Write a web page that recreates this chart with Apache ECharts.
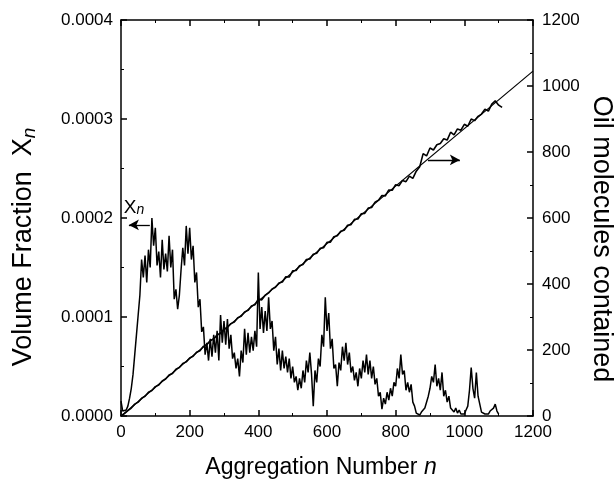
<!DOCTYPE html>
<html><head><meta charset="utf-8">
<script src="https://cdn.jsdelivr.net/npm/echarts@6/dist/echarts.min.js"></script>
<style>html,body{margin:0;padding:0;background:#fff}#c{width:616px;height:480px}</style>
</head><body><div id="c"></div>
<script>
// Axis ticks
const xTicks = [0, 200, 400, 600, 800, 1000, 1200];
const leftTickLabels = ['0.0000', '0.0001', '0.0002', '0.0003', '0.0004'];
const rightTicks = [0, 200, 400, 600, 800, 1000, 1200];
const rightTitle = 'Oil molecules contained';

// Volume fraction X_n (units of 1e-5), sampled every 5 in n
const nX = [0,5,10,15,20,25,30,35,40,45,50,55,60,65,70,75,80,85,90,95,
100,105,110,115,120,125,130,135,140,145,150,155,160,165,170,175,180,185,190,195,
200,205,210,215,220,225,230,235,240,245,250,255,260,265,270,275,280,285,290,295,
300,305,310,315,320,325,330,335,340,345,350,355,360,365,370,375,380,385,390,395,
400,405,410,415,420,425,430,435,440,445,450,455,460,465,470,475,480,485,490,495,
500,505,510,515,520,525,530,535,540,545,550,555,560,565,570,575,580,585,590,595,
600,605,610,615,620,625,630,635,640,645,650,655,660,665,670,675,680,685,690,695,
700,705,710,715,720,725,730,735,740,745,750,755,760,765,770,775,780,785,790,795,
800,805,810,815,820,825,830,835,840,845,850,855,860,865,870,875,880,885,890,895,
900,905,910,915,920,925,930,935,940,945,950,955,960,965,970,975,980,985,990,995,
1000,1005,1010,1015,1020,1025,1030,1035,1040,1045,1050,1055,1060,1065,1070,1075,1080,1085,1090,1095,1100];
const xnVals = [1.5,0.5,0.3,0.6,1.0,1.8,2.8,4.2,6.2,8.2,10.2,12.2,15.8,14.0,16.2,13.5,16.8,15.0,20.0,17.2,
19.0,15.2,16.6,14.0,17.8,14.8,16.4,14.6,18.2,15.0,16.8,11.8,12.8,10.8,12.2,14.8,17.0,15.2,19.2,16.4,
19.0,15.8,17.2,13.5,14.5,11.0,11.8,8.5,9.0,6.2,7.4,5.6,7.8,6.0,8.2,6.4,8.6,5.6,10.2,7.4,
9.6,7.2,9.8,6.8,8.2,5.8,6.4,4.8,5.8,4.0,6.6,5.4,8.8,6.2,8.4,6.4,8.0,6.6,8.6,7.0,
14.5,8.8,11.0,8.4,10.6,8.6,12.0,8.8,9.6,6.6,8.0,5.2,6.8,4.6,6.6,4.8,6.0,4.4,5.8,3.8,
5.0,3.4,4.0,2.6,3.8,2.8,4.6,3.4,5.6,4.4,6.4,4.2,1.0,4.6,3.4,5.8,5.0,8.2,7.0,12.0,
8.6,10.4,6.8,7.8,4.8,5.2,3.0,5.4,4.6,7.0,5.6,7.4,5.2,6.4,4.4,5.0,3.6,4.4,3.0,4.8,
3.8,5.6,4.4,6.2,4.2,5.6,3.8,5.0,3.2,3.8,2.0,2.4,0.7,1.8,1.2,2.4,1.6,2.8,2.0,3.4,
3.0,4.8,3.8,6.2,4.2,4.6,2.6,3.4,2.4,3.2,1.4,1.0,0.3,0.5,0.1,0.4,0.2,0.8,0.6,2.0,
2.8,4.0,3.4,5.2,3.0,3.8,2.6,4.4,2.0,2.6,1.4,2.0,0.8,1.0,0.4,0.8,0.3,0.6,0.2,0.4,
0.2,0.6,1.0,2.6,4.9,2.8,1.8,4.4,2.0,1.2,0.4,0.6,0.2,0.4,0.2,0.5,0.3,0.8,1.2,0.5,0.2];

// Oil molecules contained, sampled every 10 in n
const nOil = [0,10,20,30,40,50,60,70,80,90,100,110,120,130,140,150,160,170,180,190,
200,210,220,230,240,250,260,270,280,290,300,310,320,330,340,350,360,370,380,390,
400,410,420,430,440,450,460,470,480,490,500,510,520,530,540,550,560,570,580,590,
600,610,620,630,640,650,660,670,680,690,700,710,720,730,740,750,760,770,780,790,
800,810,820,830,840,850,860,870,880,890,900,910,920,930,940,950,960,970,980,990,
1000,1010,1020,1030,1040,1050,1060,1070,1080,1090,1100,1110];
const oilVals = [0,7,16,24,36,42,54,60,72,77,89,94,106,112,124,129,142,147,159,164,
176,181,193,198,211,216,229,233,246,250,263,268,280,285,298,302,315,320,333,337,
354,352,366,373,385,390,403,406,422,421,440,441,455,459,474,476,490,493,508,510,
526,527,543,546,560,563,578,580,596,597,613,614,630,632,648,654,668,667,685,684,
701,698,714,710,727,720,742,755,795,788,812,806,822,826,840,836,860,852,870,866,
884,878,900,895,908,915,930,924,945,955,942,935];

// Fitted straight line
const fitN = [0, 1200];
const fitVals = [0, 1045];

const F = 'Liberation Sans, Arial, sans-serif';
const chart = echarts.init(document.getElementById('c'), null, {renderer: 'canvas'});
const zip = (a, b) => a.map((v, i) => [v, b[i]]);
const axisLineStyle = {color: '#000', width: 1.5};
const tickStyle = {show: true, inside: true, length: 6, lineStyle: {color: '#000', width: 1.5}};
const minorStyle = {show: true, splitNumber: 2, length: 3, lineStyle: {color: '#000', width: 1}};

chart.setOption({
  animation: false,
  backgroundColor: '#fff',
  grid: {left: 121, right: 83, top: 20, bottom: 64, show: false, containLabel: false, outerBoundsMode: 'none'},
  graphic: [{
    type: 'text', x: 601, y: 239, rotation: -Math.PI / 2, silent: true,
    style: {text: rightTitle, fill: '#000', font: '27px ' + F, align: 'center', verticalAlign: 'middle'}
  }],
  xAxis: [{
    type: 'value', min: 0, max: 1200, interval: 200, position: 'bottom',
    axisLine: {show: true, onZero: false, lineStyle: axisLineStyle},
    axisTick: tickStyle, minorTick: minorStyle, splitLine: {show: false},
    axisLabel: {color: '#000', fontFamily: F, fontSize: 17, margin: 8, formatter: (v) => String(v)},
    name: 'Aggregation Number {i|n}', nameLocation: 'middle', nameGap: 40, nameMoveOverlap: false,
    nameTextStyle: {color: '#000', fontFamily: F, fontSize: 23, padding: [0, 12, 0, 0],
      rich: {i: {fontStyle: 'italic', fontFamily: F, fontSize: 23, color: '#000'}}}
  }, {
    type: 'value', min: 0, max: 1200, interval: 200, position: 'top',
    axisLine: {show: true, onZero: false, lineStyle: axisLineStyle},
    axisTick: tickStyle, minorTick: minorStyle, splitLine: {show: false},
    axisLabel: {show: false}
  }],
  yAxis: [{
    type: 'value', min: 0, max: 40, interval: 10, position: 'left',
    axisLine: {show: true, onZero: false, lineStyle: axisLineStyle},
    axisTick: tickStyle, minorTick: minorStyle, splitLine: {show: false},
    axisLabel: {color: '#000', fontFamily: F, fontSize: 17, margin: 8,
      formatter: (v) => leftTickLabels[Math.round(v / 10)]},
    name: 'Volume Fraction  X{s|n}', nameLocation: 'middle', nameGap: 82, nameRotate: 90, nameMoveOverlap: false,
    nameTextStyle: {color: '#000', fontFamily: F, fontSize: 27, lineHeight: 30, padding: [0, 58, 0, 0],
      rich: {s: {fontStyle: 'italic', fontFamily: F, fontSize: 19, color: '#000', verticalAlign: 'bottom', lineHeight: 20}}}
  }, {
    type: 'value', min: 0, max: 1200, interval: 200, position: 'right',
    axisLine: {show: true, onZero: false, lineStyle: axisLineStyle},
    axisTick: tickStyle, minorTick: minorStyle, splitLine: {show: false},
    axisLabel: {color: '#000', fontFamily: F, fontSize: 17, margin: 9, formatter: (v) => String(v)}
  }],
  series: [{
    name: 'Xn', type: 'line', xAxisIndex: 0, yAxisIndex: 0, data: zip(nX, xnVals),
    symbol: 'none', lineStyle: {color: '#000', width: 1.5},
    markLine: {
      silent: true, symbol: ['arrow', 'none'], symbolSize: [8, 10],
      lineStyle: {color: '#000', width: 1.3, type: 'solid'}, label: {show: false},
      data: [[{coord: [23, 19.3]}, {coord: [84, 19.3]}]]
    },
    markPoint: {
      silent: true, symbol: 'circle', symbolSize: 0,
      data: [{coord: [38, 21.0], label: {show: true, formatter: 'X{s|n}', color: '#000',
        fontFamily: F, fontSize: 19, rich: {s: {fontStyle: 'italic', fontSize: 14, fontFamily: F, color: '#000', verticalAlign: 'bottom', lineHeight: 14, padding: [9, 0, 0, 0]}}}}]
    }
  }, {
    name: 'Oil', type: 'line', xAxisIndex: 0, yAxisIndex: 1, data: zip(nOil, oilVals),
    symbol: 'none', lineStyle: {color: '#000', width: 1.6},
    markLine: {
      silent: true, symbol: ['none', 'arrow'], symbolSize: [8, 10],
      lineStyle: {color: '#000', width: 1.3, type: 'solid'}, label: {show: false},
      data: [[{coord: [894, 776]}, {coord: [987, 776]}]]
    }
  }, {
    name: 'Fit', type: 'line', xAxisIndex: 0, yAxisIndex: 1, data: zip(fitN, fitVals),
    symbol: 'none', lineStyle: {color: '#000', width: 1.2}
  }]
});
</script></body></html>
